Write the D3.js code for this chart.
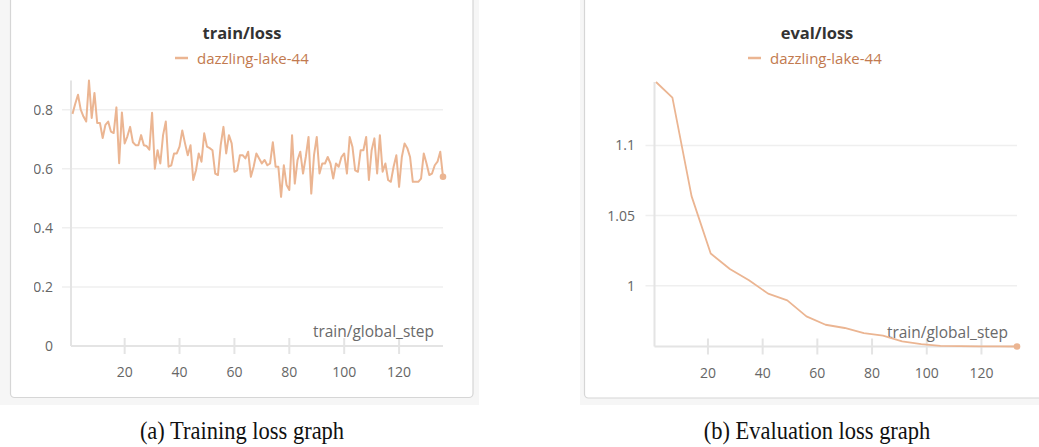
<!DOCTYPE html>
<html>
<head>
<meta charset="utf-8">
<script src="https://cdn.jsdelivr.net/npm/d3@7"></script>
<style>
  body { margin: 0; background: #fff; }
  svg { display: block; }
  .tick-label { font-family: "Open Sans", sans-serif; font-size: 14px; fill: #666; }
  .title { font-family: "Open Sans", sans-serif; font-size: 16.5px; font-weight: bold; fill: #333; }
  .legend { font-family: "Open Sans", sans-serif; font-size: 15px; fill: #c27a4f; }
  .xlabel { font-family: "Open Sans", sans-serif; font-size: 15.5px; fill: #6a6a6a; }
  .caption { font-family: "Liberation Serif", "Times New Roman", serif; font-size: 25px; fill: #111; }
</style>
</head>
<body>
<svg id="chart" width="1039" height="447"></svg>
<script>
const runName = "dazzling-lake-44";
const xTicks = [20, 40, 60, 80, 100, 120];

// train/loss, one value per step (steps 1..136)
const trainLoss = [
  0.786, 0.82, 0.851, 0.80, 0.777, 0.760, 0.899, 0.772, 0.857, 0.755,
  0.755, 0.704, 0.749, 0.760, 0.726, 0.721, 0.808, 0.619, 0.791, 0.686,
  0.71, 0.742, 0.69, 0.68, 0.68, 0.714, 0.68, 0.677, 0.665, 0.79,
  0.60, 0.663, 0.618, 0.714, 0.76, 0.607, 0.612, 0.652, 0.652, 0.675,
  0.73, 0.686, 0.646, 0.68, 0.562, 0.595, 0.652, 0.624, 0.72, 0.675,
  0.67, 0.663, 0.584, 0.579, 0.68, 0.742, 0.652, 0.714, 0.686, 0.59,
  0.595, 0.646, 0.646, 0.635, 0.658, 0.573, 0.607, 0.652, 0.635, 0.618,
  0.63, 0.612, 0.618, 0.69, 0.607, 0.607, 0.505, 0.612, 0.545, 0.528,
  0.714, 0.55, 0.63, 0.658, 0.584, 0.64, 0.708, 0.516, 0.646, 0.708,
  0.584, 0.618, 0.618, 0.64, 0.618, 0.567, 0.618, 0.607, 0.64, 0.652,
  0.584, 0.708, 0.675, 0.595, 0.59, 0.663, 0.663, 0.708, 0.562, 0.663,
  0.703, 0.584, 0.714, 0.59, 0.618, 0.562, 0.556, 0.607, 0.646, 0.539,
  0.64, 0.686, 0.67, 0.64, 0.556, 0.556, 0.556, 0.567, 0.652, 0.618,
  0.579, 0.584, 0.612, 0.624, 0.658, 0.573
];
const trainSteps = trainLoss.map((d, i) => i + 1);
const trainYTicks = [0, 0.2, 0.4, 0.6, 0.8];

// eval/loss
const evalSteps = [1, 7, 14, 21, 28, 35, 42, 49, 56, 63, 70, 77, 84, 91, 98, 105, 112, 119, 126, 133];
const evalLoss = [1.1452, 1.1341, 1.0638, 1.0229, 1.0119, 1.0038, 0.9943, 0.9895, 0.9781, 0.9721,
  0.9698, 0.9662, 0.9643, 0.9602, 0.9583, 0.9571, 0.9568, 0.9567, 0.9567, 0.9566];
const evalYTicks = [1, 1.05, 1.1];

const lineColor = "#ebb592";
const svg = d3.select("#chart");

// screenshot backgrounds + cards
svg.append("rect").attr("x", 0).attr("y", 0).attr("width", 479).attr("height", 405).attr("fill", "#f6f6f6");
svg.append("rect").attr("x", 580).attr("y", 0).attr("width", 459).attr("height", 405).attr("fill", "#f6f6f6");
svg.append("rect").attr("x", 10.5).attr("y", -10).attr("width", 462.5).attr("height", 407.5)
  .attr("rx", 4).attr("fill", "#fff").attr("stroke", "#d6d6d6").attr("stroke-width", 1.2);
svg.append("rect").attr("x", 584.5).attr("y", -10).attr("width", 470).attr("height", 408)
  .attr("rx", 4).attr("fill", "#fff").attr("stroke", "#d6d6d6").attr("stroke-width", 1.2);

svg.append("defs").append("clipPath").attr("id", "leftClip")
  .append("rect").attr("x", 34).attr("y", 0).attr("width", 440).attr("height", 400);

function panel(opt) {
  const x = d3.scaleLinear().domain(opt.xDomain).range(opt.xRange);
  const y = d3.scaleLinear().domain(opt.yDomain).range(opt.yRange);
  const g = svg.append("g");
  const ax = opt.xRange[0] - 1.5;
  const bottom = opt.yRange[0];

  // grid
  g.selectAll(".grid").data(opt.yTicks.filter(t => y(t) < bottom - 2))
    .enter().append("line")
    .attr("x1", ax - 9).attr("x2", opt.xRange[1])
    .attr("y1", d => y(d)).attr("y2", d => y(d))
    .attr("stroke", "#efefef").attr("stroke-width", 1.5);

  // y axis line and x axis line
  g.append("line").attr("x1", ax).attr("x2", ax).attr("y1", opt.yRange[1]).attr("y2", bottom)
    .attr("stroke", "#e4e4e4").attr("stroke-width", 2);
  g.append("line").attr("x1", ax).attr("x2", opt.xRange[1]).attr("y1", bottom).attr("y2", bottom)
    .attr("stroke", "#e4e4e4").attr("stroke-width", 2);

  // x ticks
  g.selectAll(".xt").data(xTicks).enter().append("line")
    .attr("x1", d => x(d)).attr("x2", d => x(d))
    .attr("y1", bottom - 8).attr("y2", bottom + 8)
    .attr("stroke", "#e4e4e4").attr("stroke-width", 2);
  g.selectAll(".xl").data(xTicks).enter().append("text")
    .attr("class", "tick-label")
    .attr("x", d => x(d)).attr("y", bottom + 31)
    .attr("text-anchor", "middle")
    .text(d => d);

  // y labels
  const yl = g.append("g");
  if (opt.clip) yl.attr("clip-path", "url(#leftClip)");
  yl.selectAll("text").data(opt.yTicks).enter().append("text")
    .attr("class", "tick-label")
    .attr("x", opt.yLabelX).attr("y", d => y(d) + 5)
    .attr("text-anchor", "end")
    .text(d => d);

  g.append("text").attr("class", "xlabel")
    .attr("x", opt.xRange[1] - 9).attr("y", bottom - 9)
    .attr("text-anchor", "end")
    .text("train/global_step");

  // title + legend
  g.append("text").attr("class", "title")
    .attr("x", opt.cx).attr("y", 39).attr("text-anchor", "middle")
    .text(opt.title);
  g.append("line").attr("x1", opt.legendX).attr("x2", opt.legendX + 13)
    .attr("y1", 58).attr("y2", 58).attr("stroke", lineColor).attr("stroke-width", 2.5);
  g.append("text").attr("class", "legend")
    .attr("x", opt.legendX + 22).attr("y", 63.5)
    .text(runName);

  const line = d3.line().x(d => x(d[0])).y(d => y(d[1]));
  const pts = opt.steps.map((s, i) => [s, opt.values[i]]);
  g.append("path").datum(pts)
    .attr("d", line)
    .attr("fill", "none")
    .attr("stroke", lineColor)
    .attr("stroke-width", opt.lw)
    .attr("stroke-linejoin", "round");
  const last = pts[pts.length - 1];
  g.append("circle").attr("cx", x(last[0])).attr("cy", y(last[1])).attr("r", 3.3).attr("fill", lineColor);

  // caption (slightly condensed serif)
  svg.append("text").attr("class", "caption")
    .attr("transform", `translate(${opt.cx},439) scale(0.9,1)`)
    .attr("text-anchor", "middle")
    .text(opt.caption);
}

panel({
  title: "train/loss", caption: "(a) Training loss graph",
  steps: trainSteps, values: trainLoss,
  xDomain: [1, 136], xRange: [72.5, 443],
  yDomain: [0, d3.max(trainLoss)], yRange: [346, 80.5],
  yTicks: trainYTicks, yLabelX: 53, cx: 242, legendX: 175, lw: 2, clip: true
});

panel({
  title: "eval/loss", caption: "(b) Evaluation loss graph",
  steps: evalSteps, values: evalLoss,
  xDomain: [1, 133], xRange: [656, 1017],
  yDomain: d3.extent(evalLoss), yRange: [346.5, 82],
  yTicks: evalYTicks, yLabelX: 635, cx: 817, legendX: 748, lw: 1.8, clip: false
});
</script>
</body>
</html>
